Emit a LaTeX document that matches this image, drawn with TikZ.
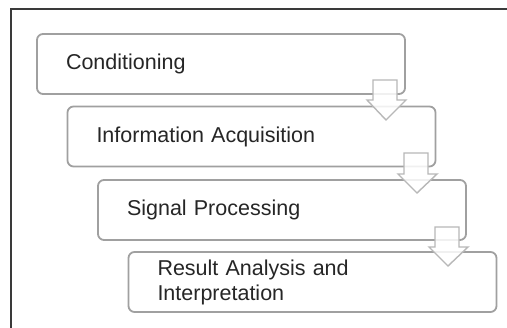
\documentclass[tikz,border=0pt]{standalone}
\usepackage{fontspec}
\setmainfont{Liberation Sans}
\begin{document}
\begin{tikzpicture}[x=1pt,y=-1pt,
  stepbox/.style={draw=boxgray,line width=1.8pt,rounded corners=6pt,fill=white,
    minimum width=368pt,minimum height=60pt,text width=310pt,align=left,
    inner xsep=29pt,inner ysep=0pt,font=\fontsize{21.5}{25}\selectfont,text=black!85},
  blockarrow/.style={draw=arrowgray,line width=1.4pt,fill=white,fill opacity=0.85,line join=miter}]
\definecolor{boxgray}{HTML}{A0A0A0}
\definecolor{arrowgray}{HTML}{B8B8B8}
\definecolor{framegray}{HTML}{3A3A3A}
\useasboundingbox (0,0) rectangle (507,328);
\draw[framegray,line width=1.3pt] (11,330) -- (11,9) -- (509,9);
\node[stepbox] (b1) at (221,64) {Conditioning};
\node[stepbox] (b2) at (251.5,136.5) {Information Acquisition};
\node[stepbox] (b3) at (282,210) {Signal Processing};
\node[stepbox] (b4) at (312.5,282) {Result Analysis and\\Interpretation};
\draw[blockarrow] (373,80) -- (397,80) -- (397,100) -- (406,100) -- (386,120) -- (367,100) -- (373,100) -- cycle;
\draw[blockarrow] (404,153) -- (428,153) -- (428,174) -- (437,174) -- (417,193) -- (398,174) -- (404,174) -- cycle;
\draw[blockarrow] (435,227) -- (459,227) -- (459,247) -- (468,247) -- (448,266) -- (429,247) -- (435,247) -- cycle;
\end{tikzpicture}
\end{document}
